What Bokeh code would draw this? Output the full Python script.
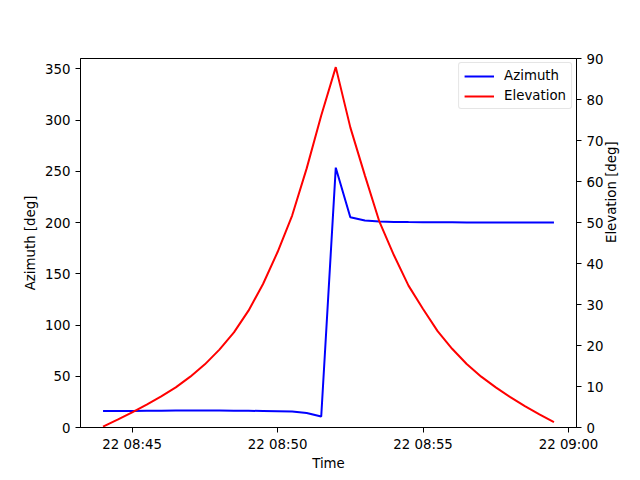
import pandas as pd

from bokeh.embed import file_html
from bokeh.models import (DatetimeTickFormatter, FixedTicker, Legend, LegendItem,
                          LinearAxis, Range1d)
from bokeh.plotting import figure
from bokeh.resources import INLINE

DAY = '2023-03-22'

# pass samples, every 30 s
times = ['08:44:00', '08:44:30', '08:45:00', '08:45:30', '08:46:00', '08:46:30', '08:47:00', '08:47:30',
         '08:48:00', '08:48:30', '08:49:00', '08:49:30', '08:50:00', '08:50:30', '08:51:00', '08:51:30',
         '08:52:00', '08:52:30', '08:53:00', '08:53:30', '08:54:00', '08:54:30', '08:55:00', '08:55:30',
         '08:56:00', '08:56:30', '08:57:00', '08:57:30', '08:58:00', '08:58:30', '08:59:00', '08:59:30']

azimuth = [16.0, 16.1, 16.2, 16.3, 16.4, 16.5, 16.5, 16.5, 16.5, 16.4, 16.3, 16.1,
           15.8, 15.5, 14.2, 10.7, 253.5, 205.2, 202.0, 201.0, 200.6, 200.4, 200.3, 200.2,
           200.2, 200.1, 200.1, 200.1, 200.0, 200.0, 200.0, 200.0]

elevation = [0.2, 1.9, 3.7, 5.6, 7.6, 9.8, 12.4, 15.4, 19.0, 23.2, 28.5, 35.0,
             42.8, 51.7, 63.2, 76.1, 87.9, 73.2, 61.5, 50.2, 42.0, 34.6, 28.9, 23.5,
             19.2, 15.5, 12.4, 9.8, 7.4, 5.2, 3.2, 1.3]

time_ticks = ['08:45', '08:50', '08:55', '09:00']
azimuth_ticks = [0, 50, 100, 150, 200, 250, 300, 350]
elevation_ticks = [0, 10, 20, 30, 40, 50, 60, 70, 80, 90]

FONT = 'DejaVu Sans'
SIZE = '10pt'


def to_ms(ts):
    return pd.Timestamp(ts).value / 1e6


t = pd.to_datetime([f'{DAY} {s}' for s in times])

# matplotlib-like 5% margin around the data
span = t[-1] - t[0]
x_range = Range1d(start=t[0] - span * 0.05, end=t[-1] + span * 0.05)

p = figure(frame_width=496, frame_height=369, x_axis_type='datetime', x_range=x_range,
           y_range=Range1d(0, 360), output_backend='svg', toolbar_location=None,
           min_border_left=80, min_border_right=64, min_border_top=58, min_border_bottom=53,
           x_axis_label='Time', y_axis_label='Azimuth [deg]')

p.extra_y_ranges = {'elev': Range1d(0, 90)}

r_az = p.line(t, azimuth, line_color='blue', line_width=2)
r_el = p.line(t, elevation, line_color='red', line_width=2, y_range_name='elev')

p.xaxis.ticker = FixedTicker(ticks=[to_ms(f'{DAY} {s}') for s in time_ticks])
fmt = '%d %H:%M'
p.xaxis.formatter = DatetimeTickFormatter(seconds=fmt, minsec=fmt, minutes=fmt, hourmin=fmt, hours=fmt)
p.yaxis.ticker = FixedTicker(ticks=azimuth_ticks)

# right-hand title reads bottom to top, like the left one
right = LinearAxis(y_range_name='elev', ticker=FixedTicker(ticks=elevation_ticks),
                   axis_label='Elevation [deg]', axis_label_orientation=1.5707963)
p.add_layout(right, 'right')

for ax in p.axis:
    ax.axis_line_color = 'black'
    ax.major_tick_line_color = 'black'
    ax.major_tick_in = 0
    ax.major_tick_out = 5
    ax.minor_tick_line_color = None
    ax.major_label_standoff = 5
    ax.major_label_text_font = FONT
    ax.major_label_text_font_size = SIZE
    ax.major_label_text_color = 'black'
    ax.axis_label_text_font = FONT
    ax.axis_label_text_font_size = SIZE
    ax.axis_label_text_font_style = 'normal'
    ax.axis_label_text_color = 'black'

p.xaxis.major_label_standoff = 4
p.xaxis.axis_label_standoff = 1
p.yaxis[0].axis_label_standoff = 4
right.axis_label_standoff = 5

p.xgrid.visible = False
p.ygrid.visible = False
p.outline_line_color = 'black'
p.outline_line_alpha = 1

# legend in the empty top-right corner of the axes
legend = Legend(items=[LegendItem(label='Azimuth', renderers=[r_az]),
                       LegendItem(label='Elevation', renderers=[r_el])],
                location='top_right', margin=4, padding=5, spacing=5,
                glyph_width=30, glyph_height=14, label_height=14, label_standoff=10,
                label_text_font=FONT, label_text_font_size=SIZE, label_text_color='black',
                border_radius=3, border_line_color='#cccccc', border_line_width=1,
                background_fill_alpha=0.8)
p.add_layout(legend)

open("out.html", "w").write(file_html(p, INLINE))
